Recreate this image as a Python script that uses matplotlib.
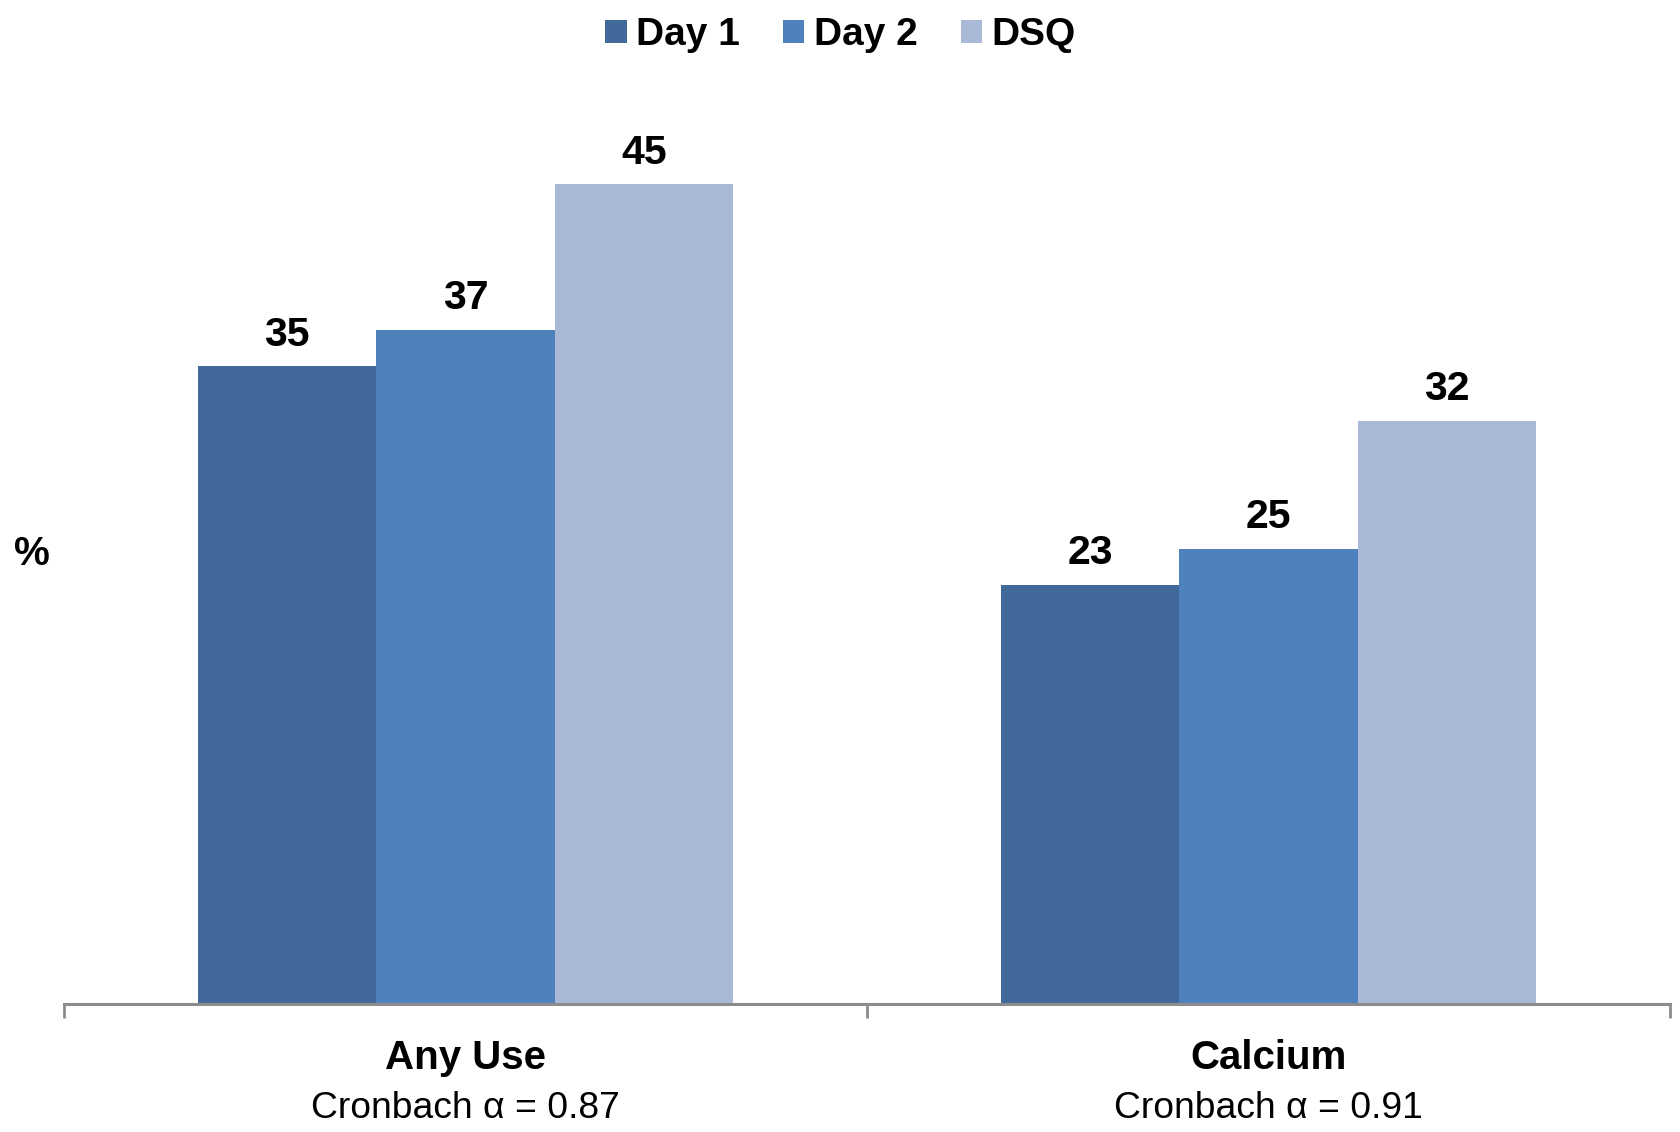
import matplotlib
matplotlib.use("Agg")
import matplotlib.pyplot as plt
from matplotlib.patches import Patch
import numpy as np

plt.rcParams['font.family'] = ['Liberation Sans', 'DejaVu Sans']

# data
categories = ["Any Use", "Calcium"]
alphas = ["Cronbach \u03b1 = 0.87", "Cronbach \u03b1 = 0.91"]
series = ["Day 1", "Day 2", "DSQ"]
values = {
    "Day 1": [35, 23],
    "Day 2": [37, 25],
    "DSQ": [45, 32],
}
colors = {"Day 1": "#416a9b", "Day 2": "#4f81bc", "DSQ": "#aab9d7"}

fig = plt.figure(figsize=(16.81, 11.32), dpi=100)
ax = fig.add_axes([0.0381, 0.1131, 0.9554, 0.8047])

x = np.arange(len(categories))
w = 0.222
for i, s in enumerate(series):
    bars = ax.bar(x + (i - 1) * w, values[s], w, color=colors[s], label=s)
    ax.bar_label(bars, padding=9, fontsize=29.5, fontweight='bold')

ax.set_xlim(-0.5, len(categories) - 0.5)
ax.set_ylim(0, 50)

for sp in ["top", "right", "left"]:
    ax.spines[sp].set_visible(False)
ax.spines["bottom"].set_color("#8c8c8c")
ax.spines["bottom"].set_linewidth(2.2)
ax.set_yticks([])

# boundary ticks
ax.set_xticks(np.arange(-0.5, len(categories), 1.0), minor=True)
ax.tick_params(axis='x', which='minor', length=10, width=2, color="#8c8c8c")
ax.set_xticks(x)
ax.set_xticklabels([])
ax.tick_params(axis='x', which='major', length=0)

for xi, cat, al in zip(x, categories, alphas):
    ax.annotate(cat, xy=(xi, 0), xycoords=('data', 'axes fraction'),
                xytext=(0, -39), textcoords='offset points',
                ha='center', va='center', fontsize=29, fontweight='bold')
    ax.annotate(al, xy=(xi, 0), xycoords=('data', 'axes fraction'),
                xytext=(0, -75), textcoords='offset points',
                ha='center', va='center', fontsize=26.8)

fig.text(32 / 1681, 1 - 554 / 1132, "%", ha='center', va='center',
         fontsize=29, fontweight='bold')

handles = [Patch(facecolor=colors[s], edgecolor='none') for s in series]
fig.legend(handles, series, loc='center', bbox_to_anchor=(0.5, 1 - 35 / 1132),
           ncol=3, frameon=False, handlelength=0.55, handleheight=0.55,
           handletextpad=0.25, columnspacing=1.1,
           prop={'size': 28, 'weight': 'bold'})

fig.savefig("out.png", dpi=100)
